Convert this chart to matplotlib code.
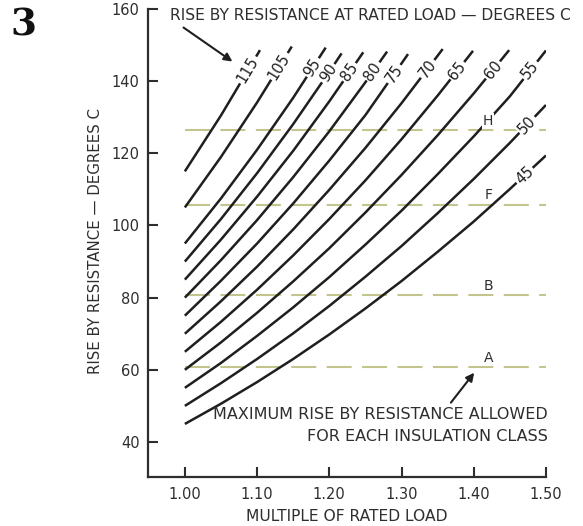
import numpy as np
import matplotlib
matplotlib.use("Agg")
import matplotlib.pyplot as plt

# Rise by resistance at rated load (curve labels), degrees C
RATED_RISE = [45, 50, 55, 60, 65, 70, 75, 80, 85, 90, 95, 105, 115]

# Multiple of rated load grid used for the read-off values
LOADS = [1.00, 1.05, 1.10, 1.15, 1.20, 1.25, 1.30, 1.35, 1.40, 1.45, 1.50]

# Rise values at the LOADS grid (until the curve stops)
RISE_VALUES = [
    [45.0, 50.6, 56.6, 63.0, 69.8, 77.0, 84.6, 92.7, 101.1, 110.1],
    [50.0, 56.3, 63.0, 70.1, 77.7, 85.8, 94.3, 103.4, 112.9, 122.9],
    [55.0, 61.9, 69.4, 77.3, 85.7, 94.7, 104.1, 114.2, 124.7, 135.8],
    [60.0, 67.6, 75.8, 84.5, 93.7, 103.6, 114.0, 125.0, 136.6],
    [65.0, 73.3, 82.2, 91.7, 101.8, 112.5, 123.9, 136.0],
    [70.0, 79.0, 88.6, 98.9, 109.9, 121.5, 133.9],
    [75.0, 84.7, 95.0, 106.1, 118.0, 130.6],
    [80.0, 90.4, 101.5, 113.4, 126.1, 139.7],
    [85.0, 96.1, 108.0, 120.7, 134.4],
    [90.0, 101.8, 114.5, 128.1, 142.6],
    [95.0, 107.5, 121.0, 135.4],
    [105.0, 119.0, 134.1],
    [115.0, 130.5],
]

# Where each curve ends (top of the short dash after its label)
END_LOAD = [1.50, 1.50, 1.50, 1.449, 1.399, 1.357, 1.309, 1.280, 1.247, 1.217, 1.195, 1.148, 1.104]
END_RISE = [119.4, 133.4, 148.5, 148.6, 148.4, 148.9, 147.5, 148.2, 148.0, 147.7, 149.3, 149.6, 148.6]

# Maximum rise allowed for each insulation class
CLASS_NAMES = ["A", "B", "F", "H"]
CLASS_LIMITS = [60.8, 80.6, 105.8, 126.4]

INK = "#1f1f1f"
AXIS_INK = "#2e2e2e"
DASH_COLOR = "#c4c48e"

fig = plt.figure(figsize=(5.83, 5.26), dpi=100, facecolor="white")
ax = fig.add_axes([0.2539, 0.0932, 0.6826, 0.8897])
ax.set_xlim(0.949, 1.50)
ax.set_ylim(30.3, 160)

# insulation class limits
for name, lim in zip(CLASS_NAMES, CLASS_LIMITS):
    ax.plot([LOADS[0], LOADS[-1]], [lim, lim], color=DASH_COLOR, lw=1.5,
            linestyle=(0, (12, 5)), zorder=1)
    ax.annotate(name, (1.42, lim), textcoords="offset points", xytext=(0, 1.5),
                ha="center", va="bottom", fontsize=10, color=AXIS_INK, zorder=4,
                bbox=dict(boxstyle="square,pad=0.05", fc="white", ec="none"))

# rise curves with labels
for rise, vals, xe, ye in zip(RATED_RISE, RISE_VALUES, END_LOAD, END_RISE):
    xs = np.array(LOADS[:len(vals)] + [xe])
    ys = np.array(vals + [ye])
    ax.plot(xs, ys, color=INK, lw=1.8, solid_capstyle="butt", zorder=2)
    yl = ye - 5.5
    xl = np.interp(yl, ys, xs)
    p1 = ax.transData.transform((np.interp(yl - 3, ys, xs), yl - 3))
    p2 = ax.transData.transform((np.interp(yl + 3, ys, xs), yl + 3))
    ang = np.degrees(np.arctan2(p2[1] - p1[1], p2[0] - p1[0]))
    ax.text(xl, yl, str(rise), rotation=ang, rotation_mode="anchor",
            ha="center", va="center", fontsize=10.5, color=INK, zorder=5,
            bbox=dict(boxstyle="square,pad=0.12", fc="white", ec="none"))

# annotations
ax.annotate("", xy=(1.069, 145.0), xytext=(0.995, 155.3),
            arrowprops=dict(arrowstyle="-|>", color=INK, lw=1.5, mutation_scale=12),
            annotation_clip=False)
ax.annotate("", xy=(1.403, 59.8), xytext=(1.366, 50.3),
            arrowprops=dict(arrowstyle="-|>", color=INK, lw=1.5, mutation_scale=12),
            annotation_clip=False)
ax.text(1.503, 47.5, "MAXIMUM RISE BY RESISTANCE ALLOWED", ha="right", va="center",
        fontsize=11.5, color=AXIS_INK)
ax.text(1.503, 41.4, "FOR EACH INSULATION CLASS", ha="right", va="center",
        fontsize=11.5, color=AXIS_INK)

fig.text(170 / 583, 1 - 15 / 526, "RISE BY RESISTANCE AT RATED LOAD \u2014 DEGREES C",
         ha="left", va="center", fontsize=11.2, color=AXIS_INK)
fig.text(23 / 583, 1 - 25 / 526, "3", ha="center", va="center", fontsize=27,
         family="DejaVu Serif", fontweight="bold", color="#111111")

# axes styling
for side in ["top", "right"]:
    ax.spines[side].set_visible(False)
for side in ["left", "bottom"]:
    ax.spines[side].set_color(AXIS_INK)
    ax.spines[side].set_linewidth(1.6)
ax.set_xticks([1.00, 1.10, 1.20, 1.30, 1.40, 1.50])
ax.set_xticklabels(["1.00", "1.10", "1.20", "1.30", "1.40", "1.50"])
ax.set_yticks([40, 60, 80, 100, 120, 140, 160])
ax.tick_params(direction="in", length=7, width=1.5, color=AXIS_INK,
               labelcolor=AXIS_INK, labelsize=10.5)
ax.tick_params(axis="x", pad=7)
ax.tick_params(axis="y", pad=6)
ax.set_xlabel("MULTIPLE OF RATED LOAD", fontsize=11.2, color=AXIS_INK)
ax.set_ylabel("RISE BY RESISTANCE \u2014 DEGREES C", fontsize=10.8, color=AXIS_INK)
ax.xaxis.set_label_coords(0.5, -0.068)
ax.yaxis.set_label_coords(-0.112, 0.505)

fig.savefig("out.png", dpi=100, facecolor="white")
